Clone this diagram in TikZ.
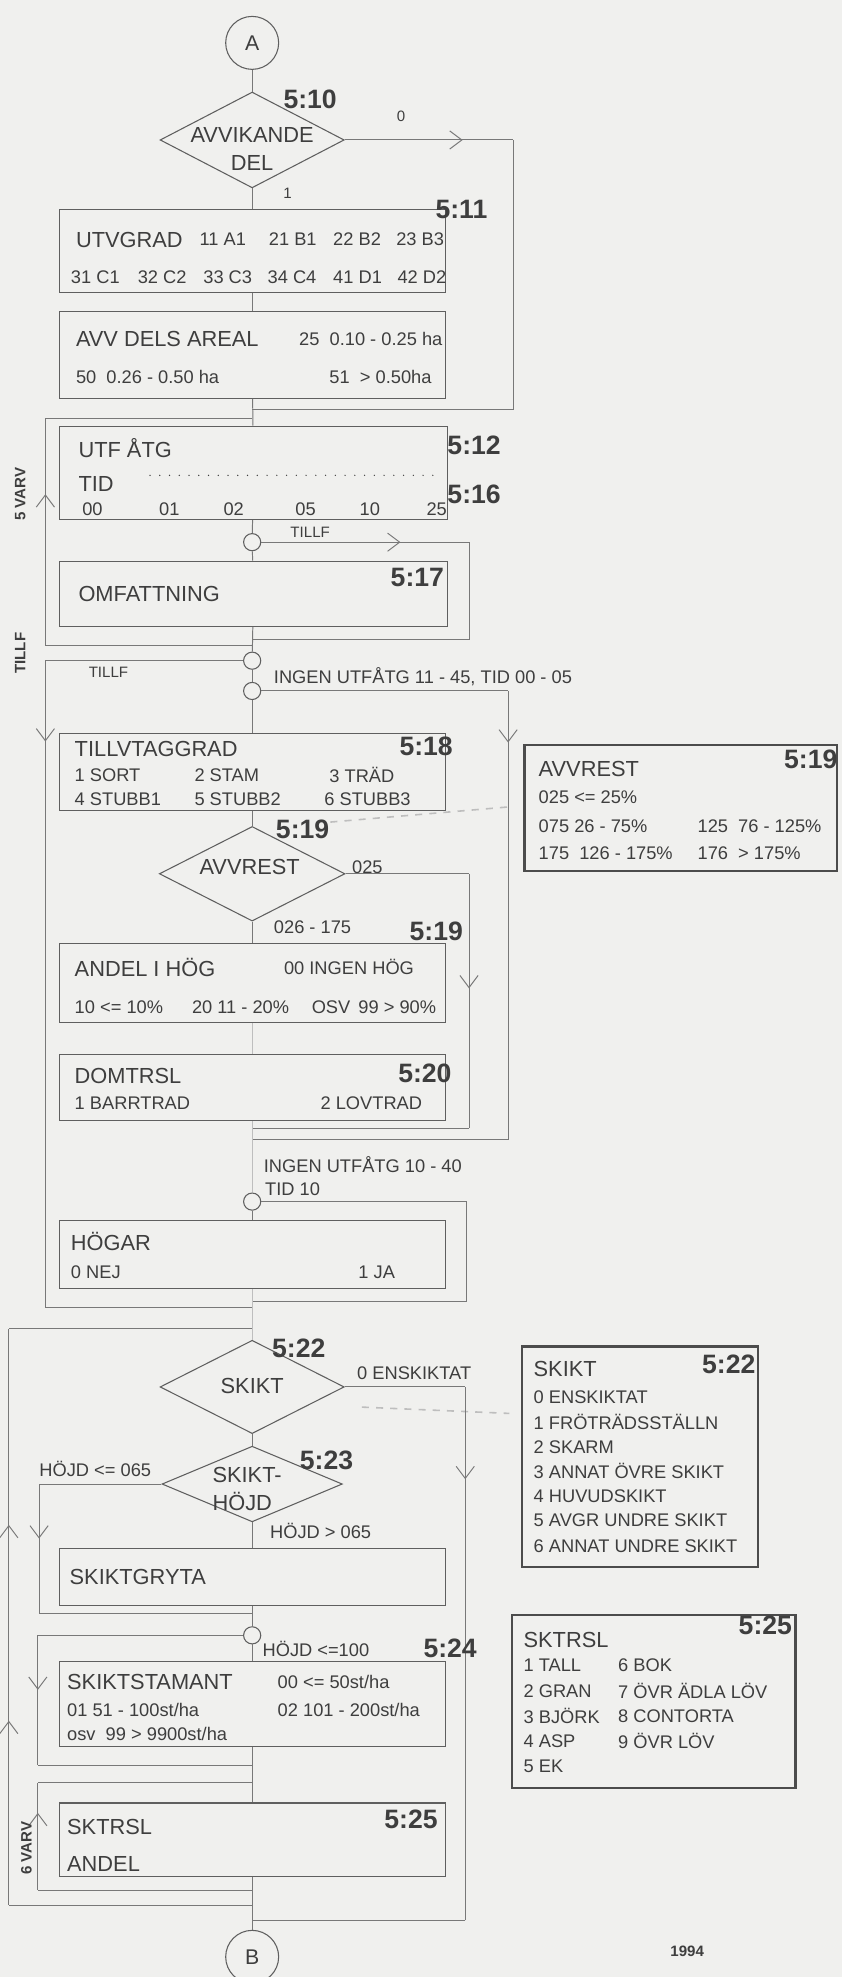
\documentclass[tikz,border=0pt]{standalone}
\usepackage{fontspec}
\setmainfont{Liberation Sans}
\usetikzlibrary{arrows.meta,positioning,shapes.geometric,fit,decorations.markings}
\definecolor{fcBack}{RGB}{240,240,238}
\definecolor{fcLine}{RGB}{120,120,120}
\definecolor{fcBox} {RGB}{95,95,95}
\definecolor{fcText}{RGB}{62,62,62}
\definecolor{fcFade}{RGB}{190,190,190}

\begin{document}
\begin{tikzpicture}[x=0.025cm, y=-0.025cm,
  >={Straight Barb[length=2.4mm,width=3.6mm]},
  every node/.style={text=fcText},
  box/.style={draw=fcBox, line width=0.6pt, inner sep=0pt},
  infobox/.style={draw=fcBox!80!black, line width=1.4pt, inner sep=0pt},
  dec/.style={diamond, draw=fcBox, line width=0.6pt, inner sep=0pt},
  conn/.style={circle, draw=fcBox, line width=0.6pt, inner sep=0pt, minimum size=0.34cm},
  term/.style={circle, draw=fcBox, line width=0.6pt, inner sep=0pt, minimum size=1.05cm,
               font=\fontsize{12}{14}\selectfont},
  ttl/.style={anchor=west, inner sep=0pt, font=\fontsize{12.3}{14}\selectfont},
  itm/.style={anchor=west, inner sep=0pt, font=\fontsize{10.3}{12}\selectfont},
  stepno/.style={inner sep=0pt, font=\fontsize{15}{17}\selectfont\bfseries},
  lbl/.style={inner sep=0pt, font=\fontsize{8.5}{10}\selectfont},
  varv/.style={inner sep=0pt, rotate=90, font=\fontsize{8.5}{10}\selectfont\bfseries},
  flow/.style={draw=fcLine, line width=0.55pt},
  faded/.style={draw=fcFade, line width=0.55pt},
  hint/.style={draw=fcFade, line width=0.9pt, dash pattern=on 4pt off 4pt},
  midarr/.style={postaction={decorate},
                 decoration={markings, mark=at position #1 with {\arrow{>}}}}
]
\fill[fcBack] (0,0) rectangle (668,1568);
\useasboundingbox (0,0) rectangle (668,1568);
\clip (0,0) rectangle (668,1568);

% --- A, avvikande del
\node[term] (circA) at (200,34) {A};
\node[dec, minimum width=3.65cm, minimum height=1.9cm] (avvik) at (200,111) {};
\node[ttl, anchor=center, align=center] (avvikT) at (200,118) {AVVIKANDE\\[1.5pt]DEL};
\node[stepno] (n510) at (246,79) {5:10};
\node[lbl] (lbl0) at (318,92) {0};
\node[lbl] (lbl1) at (228,153) {1};
\coordinate (avvikR) at (407,111);
\coordinate (avvikJ) at (200,325);
\draw[flow] (circA) -- (avvik);
\draw[flow, midarr=0.7] (avvik.east) -- (avvikR);
\draw[flow] (avvikR) |- (avvikJ);

\node[box, fit={(47,166) (353,232)}] (utvgrad) {};
\node[stepno] (n511) at (366,166) {5:11};
\node[ttl] (utvT) at (60,190) {UTVGRAD};
\node[itm] (utv11) at (158,190) {11 A1};
\node[itm] (utv21) at (213,190) {21 B1};
\node[itm] (utv22) at (264,190) {22 B2};
\node[itm] (utv23) at (314,190) {23 B3};
\node[itm] (utv31) at (56,220) {31 C1};
\node[itm] (utv32) at (109,220) {32 C2};
\node[itm] (utv33) at (161,220) {33 C3};
\node[itm] (utv34) at (212,220) {34 C4};
\node[itm] (utv41) at (264,220) {41 D1};
\node[itm] (utv42) at (315,220) {42 D2};
\draw[flow] (avvik) -- (utvgrad);

\node[box, fit={(47,247) (353,316)}] (avvdel) {};
\node[ttl] (avvT) at (60,269) {AVV DELS AREAL};
\node[itm] (avv25) at (237,269) {25\ \ 0.10 - 0.25 ha};
\node[itm] (avv50) at (60,299) {50\ \ 0.26 - 0.50 ha};
\node[itm] (avv51) at (261,299) {51\ \ > 0.50ha};
\draw[flow] (utvgrad) -- (avvdel);

% --- utf atg, tid, omfattning
\coordinate (loopTop) at (36,332);
\coordinate (loopJ) at (200,332);
\node[box, fit={(47,338) (355,412)}] (utfatg) {};
\node[ttl] (utfT) at (62,355) {UTF ÅTG};
\node[ttl] (tidT) at (62,384) {TID};
\coordinate (dotL) at (119,377);
\coordinate (dotR) at (345,377);
\draw[fcText, line width=0.8pt, line cap=round, dash pattern=on 0pt off 5.5pt] (dotL) -- (dotR);
\node[itm] (tid00) at (65,404) {00};
\node[itm] (tid01) at (126,404) {01};
\node[itm] (tid02) at (177,404) {02};
\node[itm] (tid05) at (234,404) {05};
\node[itm] (tid10) at (285,404) {10};
\node[itm] (tid25) at (338,404) {25};
\node[stepno] (n512) at (376,353) {5:12};
\node[stepno] (n516) at (376,392) {5:16};
\draw[flow] (avvdel) -- (utfatg);
\draw[flow] (loopTop) -- (loopJ);

\node[conn] (conn1) at (200,430) {};
\node[lbl] (tillf1) at (246,422) {TILLF};
\coordinate (omfA) at (372,430);
\coordinate (omfJ) at (200,507);
\draw[flow] (utfatg) -- (conn1);
\draw[flow, midarr=0.67] (conn1.east) -- (omfA);
\draw[flow] (omfA) |- (omfJ);

\node[box, fit={(47,445) (355,497)}] (omfatt) {};
\node[ttl] (omfT) at (62,471) {OMFATTNING};
\node[stepno] (n517) at (331,458) {5:17};
\draw[flow] (conn1) -- (omfatt);

\coordinate (varv5B) at (36,512);
\coordinate (loopJ2) at (200,512);
\draw[flow] (loopJ2) -- (varv5B);
\draw[flow, midarr=0.667] (varv5B) -- (loopTop);
\node[varv] (varv5) at (16,392) {5 VARV};
\node[varv] (tillfV) at (16,518) {TILLF};

\node[conn] (conn2) at (200,524) {};
\node[conn] (conn3) at (200,548) {};
\draw[flow] (omfatt) -- (conn2);
\draw[flow] (conn2) -- (conn3);
\node[lbl] (tillf2) at (86,533) {TILLF};
\coordinate (tillfA) at (36,524);
\coordinate (tillfB) at (36,1037);
\coordinate (tillfJ) at (200,1037);
\draw[flow] (conn2.west) -- (tillfA);
\draw[flow, midarr=0.125] (tillfA) -- (tillfB);
\draw[flow] (tillfB) -- (tillfJ);

\node[itm] (ingen1) at (217,537) {INGEN UTFÅTG 11 - 45, TID 00 - 05};
\coordinate (ingenA) at (403,548);
\coordinate (ingenB) at (403,904);
\coordinate (ingenJ) at (200,904);
\draw[flow] (conn3.east) -- (ingenA);
\draw[flow, midarr=0.115] (ingenA) -- (ingenB);
\draw[flow] (ingenB) -- (ingenJ);

% --- tillvaxt, avverkningsrest
\node[box, fit={(47,582) (353,643)}] (tillv) {};
\node[ttl] (tillvT) at (59,594) {TILLVTAGGRAD};
\node[itm] (tv1) at (59,615) {1 SORT};
\node[itm] (tv2) at (154,615) {2 STAM};
\node[itm] (tv3) at (261,615) {3 TRÄD};
\node[itm] (tv4) at (59,634) {4 STUBB1};
\node[itm] (tv5) at (154,634) {5 STUBB2};
\node[itm] (tv6) at (257,634) {6 STUBB3};
\node[stepno] (n518) at (338,592) {5:18};
\draw[flow] (conn3) -- (tillv);

\node[dec, minimum width=3.68cm, minimum height=1.875cm] (avvrest) at (200,693) {};
\node[ttl, anchor=center] (avvrestT) at (198,688) {AVVREST};
\node[stepno] (n519a) at (240,658) {5:19};
\node[itm] (lbl025) at (279,688) {025};
\node[itm] (lbl026) at (217,735) {026 - 175};
\coordinate (hint1a) at (262,652);
\coordinate (hint1b) at (403,640);
\draw[hint] (hint1a) -- (hint1b);
\coordinate (restA) at (372,693);
\coordinate (restB) at (372,895);
\coordinate (restJ) at (200,895);
\draw[flow] (tillv) -- (avvrest);
\draw[flow] (avvrest.east) -- (restA);
\draw[flow, midarr=0.45] (restA) -- (restB);
\draw[flow] (restB) -- (restJ);

\node[stepno] (n519b) at (346,739) {5:19};
\node[box, fit={(47,748) (353,811)}] (andel) {};
\node[ttl] (andelT) at (59,767) {ANDEL I HÖG};
\node[itm] (and00) at (225,767) {00 INGEN HÖG};
\node[itm] (and10) at (59,799) {10 <= 10\%};
\node[itm] (and20) at (152,799) {20 11 - 20\%};
\node[itm] (andosv) at (247,799) {OSV};
\node[itm] (and99) at (284,799) {99 > 90\%};
\draw[flow] (avvrest) -- (andel);

\node[box, fit={(47,836) (353,889)}] (domtrsl) {};
\node[ttl] (domT) at (59,853) {DOMTRSL};
\node[itm] (dom1) at (59,875) {1 BARRTRAD};
\node[itm] (dom2) at (254,875) {2 LOVTRAD};
\node[stepno] (n520) at (337,851) {5:20};
\draw[faded] (andel) -- (domtrsl);

% --- hogar
\node[itm] (ingen2) at (209,924) {INGEN UTFÅTG 10 - 40};
\node[itm] (tid10b) at (210,943) {TID 10};
\node[conn] (conn4) at (200,953) {};
\coordinate (hogA) at (370,953);
\coordinate (hogB) at (370,1032);
\coordinate (hogJ) at (200,1032);
\draw[faded] (domtrsl) -- (conn4);
\draw[flow] (conn4.east) -- (hogA) -- (hogB) -- (hogJ);
\node[box, fit={(47,968) (353,1022)}] (hogar) {};
\node[ttl] (hogT) at (56,985) {HÖGAR};
\node[itm] (hog0) at (56,1009) {0 NEJ};
\node[itm] (hog1) at (284,1009) {1 JA};
\draw[flow] (conn4) -- (hogar);

% --- skikt
\coordinate (outerJ1) at (200,1054);
\coordinate (outerA) at (7,1054);
\coordinate (outerB) at (7,1511);
\coordinate (outerJ2) at (200,1511);
\draw[flow] (outerJ2) -- (outerB);
\draw[flow, postaction={decorate}, decoration={markings,
      mark=at position 0.32 with {\arrow{>}},
      mark=at position 0.66 with {\arrow{>}}}] (outerB) -- (outerA);
\draw[flow] (outerA) -- (outerJ1);

\node[dec, minimum width=3.65cm, minimum height=1.85cm] (skikt) at (200,1100) {};
\node[ttl, anchor=center] (skiktT) at (200,1099) {SKIKT};
\node[stepno] (n522a) at (237,1069) {5:22};
\node[itm] (ensk) at (283,1089) {0 ENSKIKTAT};
\draw[faded] (hogar) -- (skikt);
\coordinate (hint2a) at (287,1116);
\coordinate (hint2b) at (404,1121);
\draw[hint] (hint2a) -- (hint2b);
\coordinate (enskA) at (369,1100);
\coordinate (enskB) at (369,1523);
\coordinate (enskJ) at (200,1523);
\draw[flow] (skikt.east) -- (enskA);
\draw[flow, midarr=0.173] (enskA) -- (enskB);
\draw[flow] (enskB) -- (enskJ);

\node[dec, minimum width=3.575cm, minimum height=1.5cm] (skhojd) at (200,1177) {};
\node[ttl, anchor=center, align=left] (skhojdT) at (196,1181) {SKIKT-\\[2pt]HÖJD};
\node[stepno] (n523) at (259,1158) {5:23};
\draw[flow] (skikt) -- (skhojd);
\node[itm] (hojd065) at (31,1165) {HÖJD <= 065};
\node[itm] (hojdgt) at (214,1214) {HÖJD > 065};
\coordinate (hojdA) at (31,1177);
\coordinate (hojdB) at (31,1280);
\coordinate (hojdJ) at (200,1280);
\draw[flow] (skhojd.west) -- (hojdA);
\draw[flow, midarr=0.42] (hojdA) -- (hojdB);
\draw[flow] (hojdB) -- (hojdJ);

\node[box, fit={(47,1228) (353,1273)}] (skgr) {};
\node[ttl] (skgrT) at (55,1251) {SKIKTGRYTA};
\draw[flow] (skhojd) -- (skgr);

\node[conn] (conn5) at (200,1297) {};
\draw[flow] (skgr) -- (conn5);
\coordinate (c5A) at (30,1297);
\coordinate (c5B) at (30,1400);
\coordinate (c5J) at (200,1400);
\draw[flow] (conn5.west) -- (c5A);
\draw[flow, midarr=0.42] (c5A) -- (c5B);
\draw[flow] (c5B) -- (c5J);
\node[itm] (hojd100) at (208,1308) {HÖJD <=100};
\node[stepno] (n524) at (357,1307) {5:24};

\node[box, fit={(47,1318) (353,1385)}] (skstam) {};
\node[ttl] (skstamT) at (53,1334) {SKIKTSTAMANT};
\node[itm] (sks00) at (220,1334) {00 <= 50st/ha};
\node[itm] (sks01) at (53,1356) {01 51 - 100st/ha};
\node[itm] (sks02) at (220,1356) {02 101 - 200st/ha};
\node[itm] (sksosv) at (53,1375) {osv\ \ 99 > 9900st/ha};
\draw[flow] (conn5) -- (skstam);

\coordinate (v6J1) at (200,1414);
\coordinate (v6T) at (30,1414);
\coordinate (v6B) at (30,1499);
\coordinate (v6J2) at (200,1499);
\draw[flow] (v6J2) -- (v6B);
\draw[flow, midarr=0.72] (v6B) -- (v6T);
\draw[flow] (v6T) -- (v6J1);
\node[varv] (varv6) at (21,1466) {6 VARV};

\node[box, fit={(47,1430) (353,1488)}] (sktrsl) {};
\node[ttl] (sktrslT) at (53,1449) {SKTRSL};
\node[ttl] (sktrslA) at (53,1478) {ANDEL};
\node[stepno] (n525a) at (326,1443) {5:25};
\draw[flow] (skstam) -- (sktrsl);

\node[term] (circB) at (200,1552) {B};
\draw[flow] (sktrsl) -- (circB);
\node[lbl, font=\fontsize{8.5}{10}\selectfont\bfseries] (year) at (545,1548) {1994};

% --- info boxes, right column
\node[infobox, fit={(416,591) (664,691)}] (avvrestI) {};
\node[ttl] (avvrestIT) at (427,610) {AVVREST};
\node[stepno] (n519c) at (643,602) {5:19};
\node[itm] (ar025) at (427,632) {025 <= 25\%};
\node[itm] (ar075) at (427,655) {075 26 - 75\%};
\node[itm] (ar125) at (553,655) {125\ \ 76 - 125\%};
\node[itm] (ar175) at (427,677) {175\ \ 126 - 175\%};
\node[itm] (ar176) at (553,677) {176\ \ > 175\%};

\node[infobox, fit={(414,1068) (601,1243)}] (skiktI) {};
\node[ttl] (skiktIT) at (423,1086) {SKIKT};
\node[stepno] (n522b) at (578,1082) {5:22};
\node[itm] (sk0) at (423,1108) {0 ENSKIKTAT};
\node[itm] (sk1) at (423,1128) {1 FRÖTRÄDSSTÄLLN};
\node[itm] (sk2) at (423,1148) {2 SKARM};
\node[itm] (sk3) at (423,1167) {3 ANNAT ÖVRE SKIKT};
\node[itm] (sk4) at (423,1187) {4 HUVUDSKIKT};
\node[itm] (sk5) at (423,1206) {5 AVGR UNDRE SKIKT};
\node[itm] (sk6) at (423,1226) {6 ANNAT UNDRE SKIKT};

\node[infobox, fit={(406,1281) (631,1418)}] (sktrslI) {};
\node[ttl] (sktrslIT) at (415,1301) {SKTRSL};
\node[stepno] (n525b) at (607,1289) {5:25};
\node[itm] (ts1) at (415,1321) {1 TALL};
\node[itm] (ts2) at (415,1341) {2 GRAN};
\node[itm] (ts3) at (415,1361) {3 BJÖRK};
\node[itm] (ts4) at (415,1381) {4 ASP};
\node[itm] (ts5) at (415,1401) {5 EK};
\node[itm] (ts6) at (490,1321) {6 BOK};
\node[itm] (ts7) at (490,1341) {7 ÖVR ÄDLA LÖV};
\node[itm] (ts8) at (490,1361) {8 CONTORTA};
\node[itm] (ts9) at (490,1381) {9 ÖVR LÖV};
\end{tikzpicture}
\end{document}
